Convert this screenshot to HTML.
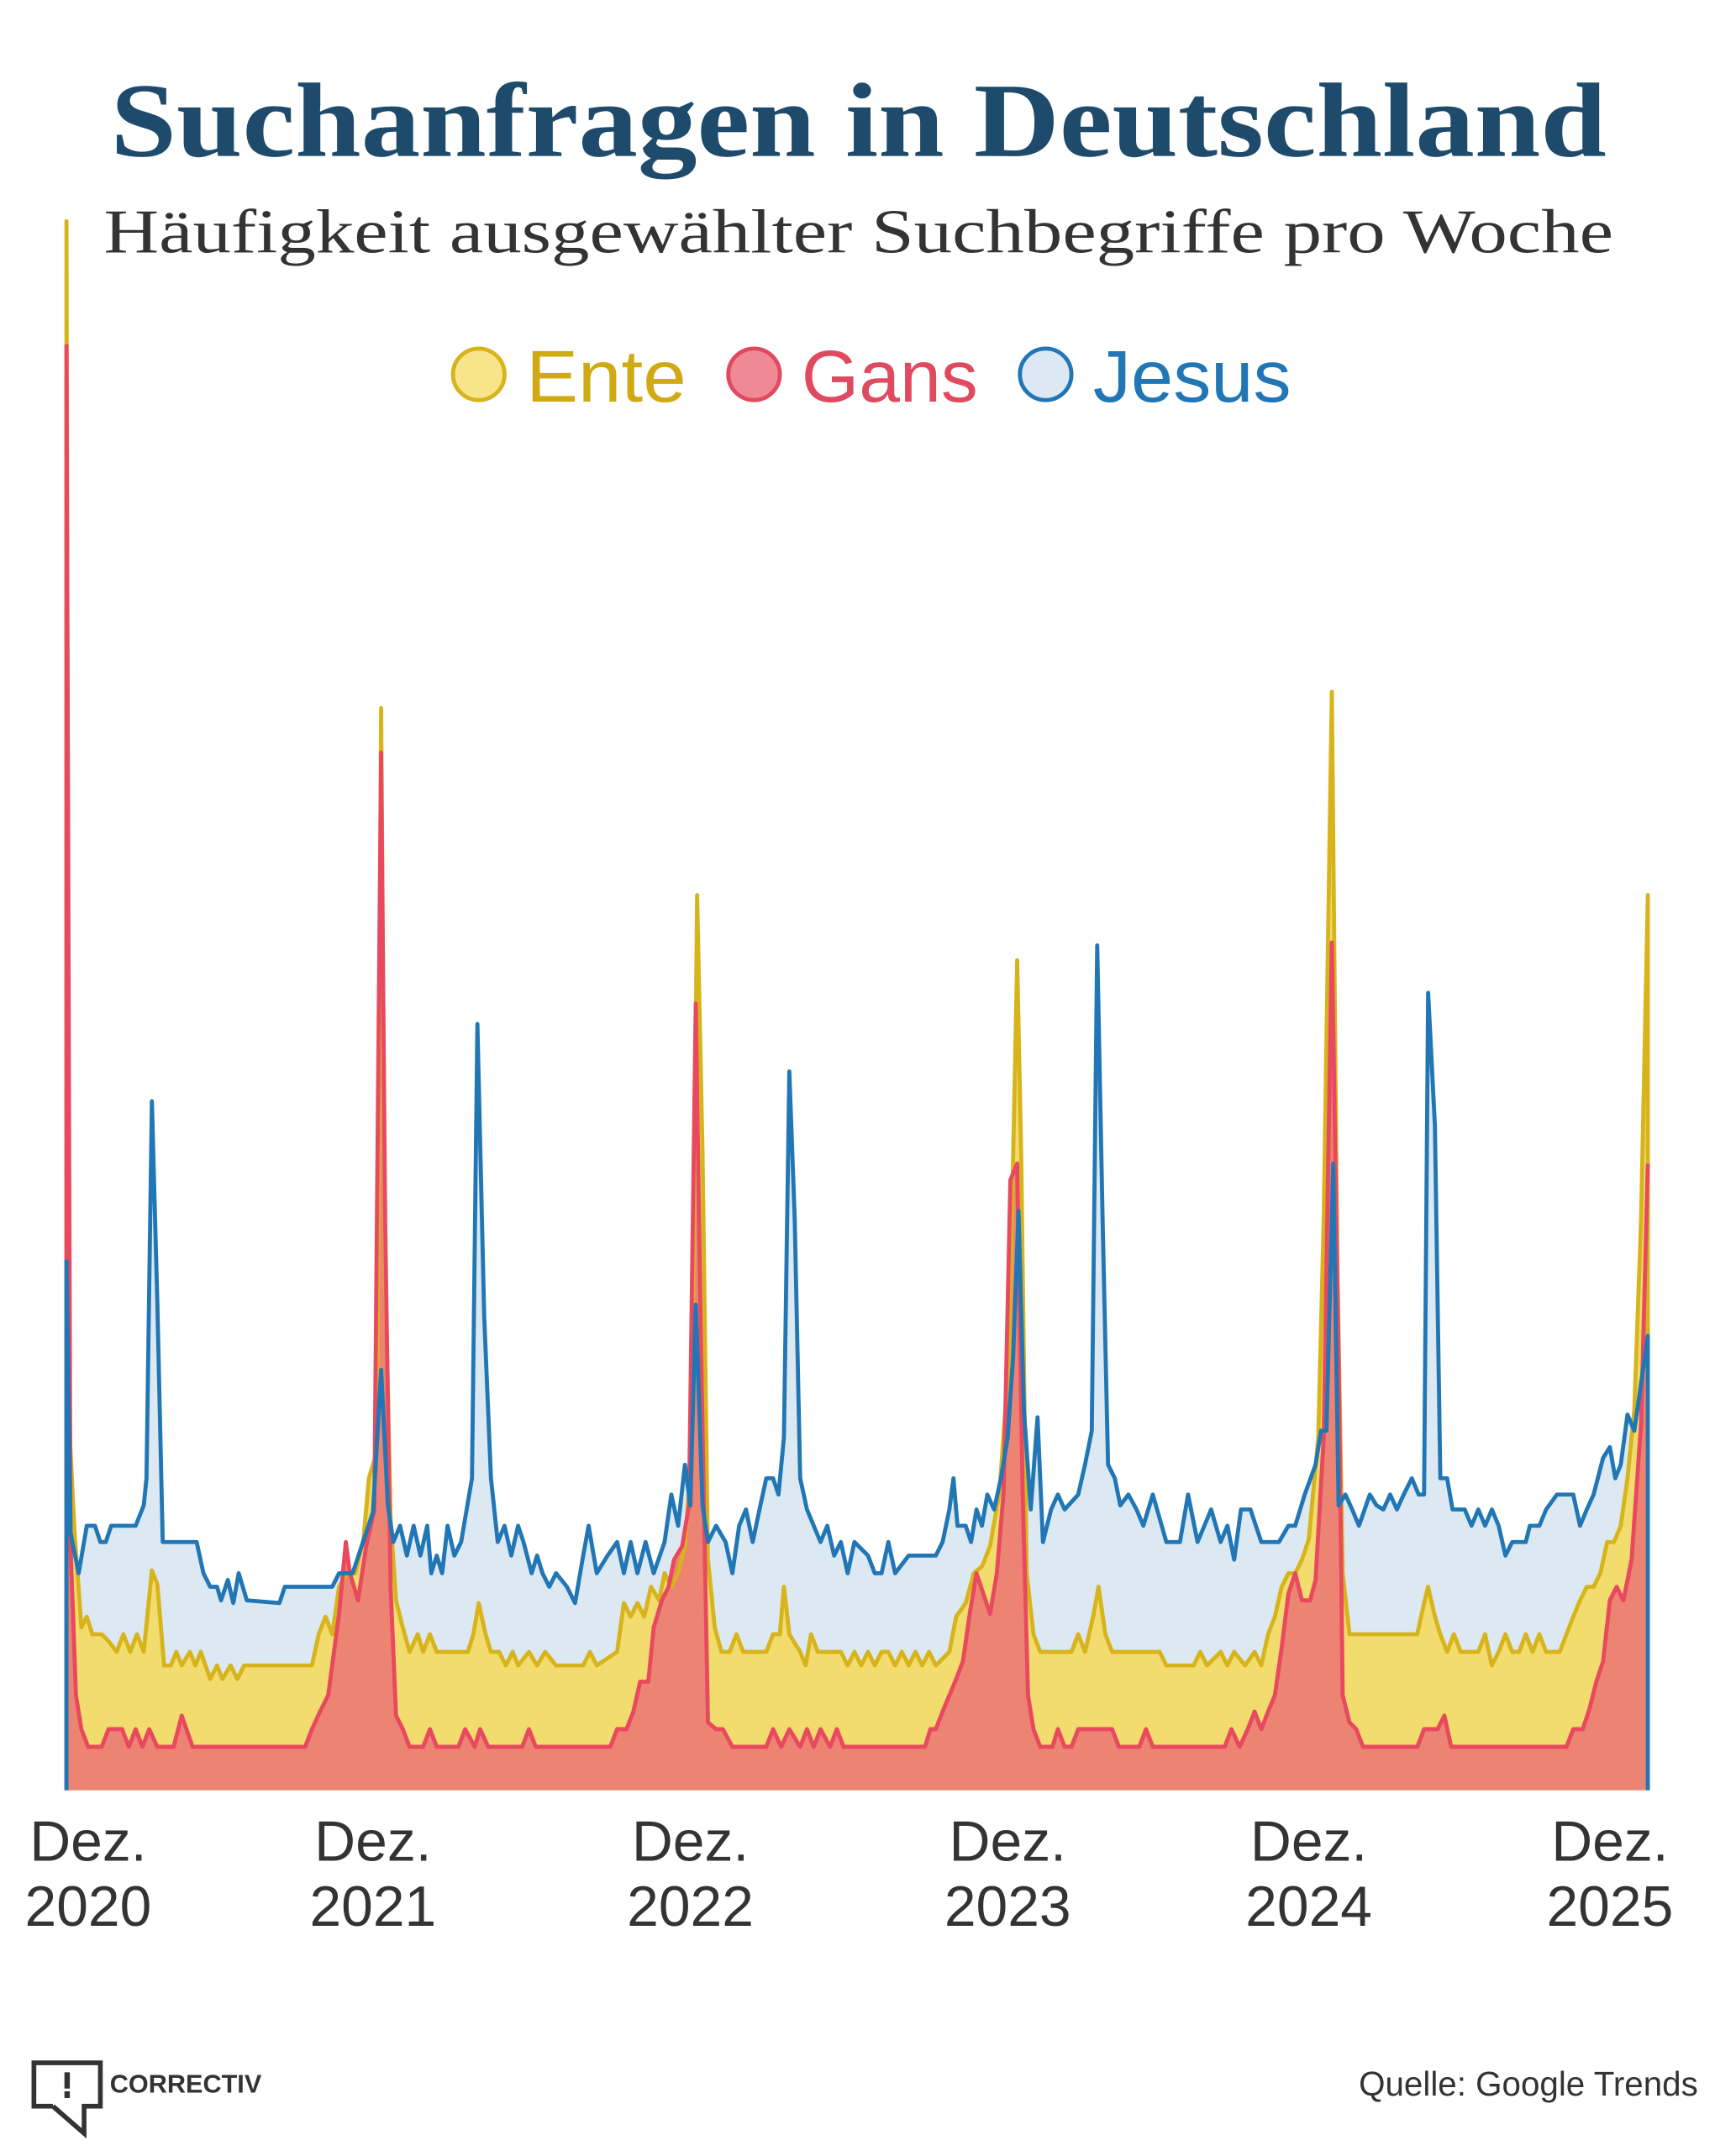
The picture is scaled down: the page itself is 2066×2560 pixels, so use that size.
<!DOCTYPE html>
<html><head><meta charset="utf-8"><style>
html,body{margin:0;padding:0;background:#fff;}
svg{display:block;}
</style></head><body>
<svg width="2066" height="2560" viewBox="0 0 1280 1586" xmlns="http://www.w3.org/2000/svg">
<rect width="1280" height="1586" fill="#fff"/>
<text x="633" y="115" text-anchor="middle" font-family="'Liberation Serif',serif" font-weight="bold" font-size="78" fill="#1e4a6b" textLength="1103" lengthAdjust="spacingAndGlyphs">Suchanfragen in Deutschland</text>
<text x="633" y="186" text-anchor="middle" font-family="'Liberation Serif',serif" font-size="46" fill="#333" textLength="1113" lengthAdjust="spacingAndGlyphs">Häufigkeit ausgewählter Suchbegriffe pro Woche</text>
<g font-family="'Liberation Sans',sans-serif" font-size="54">
<circle cx="353" cy="276" r="19" fill="#f8e48b" stroke="#d8b41c" stroke-width="3"/>
<text x="388" y="296" fill="#d0aa14" textLength="118" lengthAdjust="spacingAndGlyphs">Ente</text>
<circle cx="556" cy="276" r="19" fill="#ef8a95" stroke="#e04a60" stroke-width="3"/>
<text x="591" y="296" fill="#e04a60" textLength="130" lengthAdjust="spacingAndGlyphs">Gans</text>
<circle cx="771" cy="276" r="19" fill="#dce9f4" stroke="#2176b5" stroke-width="3"/>
<text x="806" y="296" fill="#2176b5" textLength="146" lengthAdjust="spacingAndGlyphs">Jesus</text>
</g>
<g id="chart">
<polygon fill="#dce9f2" points="49,1320 49,930 52,1130 58,1160 64,1125 70,1125 74,1137 78,1137 82,1125 100,1125 106,1110 108,1090 112,812 116,960 120,1137 145,1137 150,1160 155,1170 160,1170 163,1180 168,1165 172,1182 176,1160 182,1180 206,1182 210,1170 245,1170 250,1160 260,1160 275,1115 281,1010 286,1110 290,1137 295,1125 300,1147 305,1125 310,1147 315,1125 318,1160 322,1147 326,1160 330,1125 335,1147 340,1137 348,1090 352,755 357,970 362,1090 367,1137 372,1125 377,1147 382,1125 386,1137 392,1160 396,1147 400,1160 405,1170 410,1160 418,1170 424,1182 430,1147 434,1125 440,1160 448,1147 455,1137 460,1160 465,1137 470,1160 476,1137 482,1160 490,1137 495,1102 500,1125 505,1080 509,1110 513,962 518,1110 522,1137 528,1125 535,1137 540,1160 545,1125 550,1113 555,1137 560,1113 565,1090 570,1090 574,1102 578,1060 582,790 586,900 590,1090 595,1113 600,1125 605,1137 610,1125 615,1147 620,1137 625,1160 630,1137 640,1147 645,1160 650,1160 655,1137 660,1160 670,1147 690,1147 695,1137 700,1113 703,1090 706,1125 712,1125 716,1137 720,1113 724,1125 728,1102 733,1113 738,1090 743,1060 747,1000 751,893 755,1040 760,1113 765,1045 769,1137 775,1113 780,1102 785,1113 795,1102 800,1080 805,1055 809,697 813,900 817,1080 822,1090 826,1110 832,1102 838,1113 843,1125 850,1102 860,1137 870,1137 876,1102 883,1137 888,1125 893,1113 900,1137 905,1125 910,1150 915,1113 922,1113 930,1137 943,1137 950,1125 955,1125 962,1102 970,1080 974,1055 978,1055 983,858 987,1110 992,1102 997,1113 1002,1125 1010,1102 1015,1110 1020,1113 1025,1102 1030,1113 1035,1102 1041,1090 1046,1102 1050,1102 1053,732 1058,830 1062,1090 1067,1090 1071,1113 1080,1113 1085,1125 1090,1113 1095,1125 1100,1113 1105,1125 1110,1147 1115,1137 1125,1137 1128,1125 1135,1125 1140,1113 1148,1102 1160,1102 1165,1125 1170,1113 1175,1102 1182,1075 1187,1067 1191,1090 1195,1080 1200,1043 1205,1055 1210,1020 1215,985 1215,1320"/>
<polygon fill="#f2dc6e" points="49,1320 49,163 51,1050 55,1130 60,1200 64,1192 68,1205 75,1205 80,1210 86,1218 91,1205 96,1218 101,1205 106,1218 112,1158 116,1168 121,1228 126,1228 130,1218 134,1228 140,1218 144,1228 148,1218 155,1238 160,1228 164,1238 170,1228 175,1238 180,1228 230,1228 235,1205 240,1192 245,1205 250,1170 256,1160 262,1160 268,1135 272,1090 278,1070 281,522 284,930 288,1120 292,1180 297,1200 302,1218 308,1205 312,1218 317,1205 322,1218 345,1218 349,1205 353,1182 358,1205 362,1218 368,1218 373,1228 378,1218 382,1228 390,1218 396,1228 402,1218 410,1228 430,1228 435,1218 440,1228 455,1218 460,1182 465,1192 470,1182 475,1192 480,1170 486,1180 490,1160 495,1170 500,1160 505,1140 510,1070 514,660 518,850 522,1150 527,1200 532,1218 538,1218 543,1205 548,1218 565,1218 570,1205 575,1205 578,1170 582,1205 590,1218 594,1228 598,1205 603,1218 620,1218 625,1228 630,1218 635,1228 640,1218 645,1228 650,1218 655,1218 660,1228 665,1218 670,1228 675,1218 680,1228 685,1218 690,1228 700,1218 705,1192 712,1182 718,1160 724,1155 730,1140 737,1100 744,1000 750,708 753,855 757,1160 762,1205 767,1218 790,1218 795,1205 800,1218 806,1192 810,1170 815,1205 820,1218 855,1218 860,1228 880,1228 885,1218 890,1228 900,1218 905,1228 910,1218 918,1228 925,1218 930,1228 935,1205 940,1192 945,1170 950,1160 955,1160 960,1150 965,1135 972,1060 976,900 982,510 986,930 990,1160 995,1205 1045,1205 1050,1182 1053,1170 1058,1192 1062,1205 1067,1218 1072,1205 1077,1218 1090,1218 1095,1205 1100,1228 1105,1218 1110,1205 1115,1218 1120,1218 1125,1205 1130,1218 1135,1205 1140,1218 1150,1218 1155,1205 1160,1192 1165,1180 1170,1170 1175,1170 1180,1160 1185,1137 1190,1137 1195,1125 1200,1090 1205,1040 1210,900 1215,660 1215,1320"/>
<polygon fill="#ec8373" points="49,1320 49,255 52,1140 56,1250 60,1275 65,1288 75,1288 80,1275 90,1275 95,1288 100,1275 105,1288 110,1275 116,1288 128,1288 134,1265 142,1288 225,1288 230,1275 236,1262 242,1250 246,1220 250,1190 255,1137 258,1160 264,1180 270,1140 276,1113 281,555 284,900 288,1170 292,1265 297,1275 302,1288 312,1288 317,1275 322,1288 338,1288 343,1275 350,1288 354,1275 360,1288 385,1288 390,1275 395,1288 450,1288 455,1275 462,1275 467,1262 472,1240 478,1240 482,1200 488,1180 493,1170 497,1150 503,1140 508,1110 513,740 517,1000 522,1270 528,1275 533,1275 540,1288 565,1288 570,1275 576,1288 582,1275 590,1288 595,1275 600,1288 605,1275 612,1288 617,1275 622,1288 682,1288 686,1275 690,1275 695,1262 700,1250 705,1238 710,1225 715,1190 720,1160 725,1175 730,1190 735,1160 740,1100 745,870 750,858 754,1100 758,1250 762,1275 767,1288 776,1288 780,1275 785,1288 790,1288 795,1275 820,1275 825,1288 840,1288 845,1275 850,1288 903,1288 908,1275 914,1288 920,1275 925,1262 930,1275 935,1262 940,1250 945,1215 950,1175 955,1160 960,1180 966,1180 970,1165 976,1060 982,695 987,1000 990,1250 995,1270 1000,1275 1005,1288 1045,1288 1050,1275 1060,1275 1065,1265 1070,1288 1155,1288 1160,1275 1167,1275 1172,1260 1177,1240 1182,1225 1187,1180 1192,1170 1197,1180 1203,1150 1210,1050 1215,858 1215,1320"/>
</g>
<g fill="none" stroke-width="3" stroke-linejoin="round">
<polyline stroke="#d8b41c" points="49,1320 49,163 51,1050 55,1130 60,1200 64,1192 68,1205 75,1205 80,1210 86,1218 91,1205 96,1218 101,1205 106,1218 112,1158 116,1168 121,1228 126,1228 130,1218 134,1228 140,1218 144,1228 148,1218 155,1238 160,1228 164,1238 170,1228 175,1238 180,1228 230,1228 235,1205 240,1192 245,1205 250,1170 256,1160 262,1160 268,1135 272,1090 278,1070 281,522 284,930 288,1120 292,1180 297,1200 302,1218 308,1205 312,1218 317,1205 322,1218 345,1218 349,1205 353,1182 358,1205 362,1218 368,1218 373,1228 378,1218 382,1228 390,1218 396,1228 402,1218 410,1228 430,1228 435,1218 440,1228 455,1218 460,1182 465,1192 470,1182 475,1192 480,1170 486,1180 490,1160 495,1170 500,1160 505,1140 510,1070 514,660 518,850 522,1150 527,1200 532,1218 538,1218 543,1205 548,1218 565,1218 570,1205 575,1205 578,1170 582,1205 590,1218 594,1228 598,1205 603,1218 620,1218 625,1228 630,1218 635,1228 640,1218 645,1228 650,1218 655,1218 660,1228 665,1218 670,1228 675,1218 680,1228 685,1218 690,1228 700,1218 705,1192 712,1182 718,1160 724,1155 730,1140 737,1100 744,1000 750,708 753,855 757,1160 762,1205 767,1218 790,1218 795,1205 800,1218 806,1192 810,1170 815,1205 820,1218 855,1218 860,1228 880,1228 885,1218 890,1228 900,1218 905,1228 910,1218 918,1228 925,1218 930,1228 935,1205 940,1192 945,1170 950,1160 955,1160 960,1150 965,1135 972,1060 976,900 982,510 986,930 990,1160 995,1205 1045,1205 1050,1182 1053,1170 1058,1192 1062,1205 1067,1218 1072,1205 1077,1218 1090,1218 1095,1205 1100,1228 1105,1218 1110,1205 1115,1218 1120,1218 1125,1205 1130,1218 1135,1205 1140,1218 1150,1218 1155,1205 1160,1192 1165,1180 1170,1170 1175,1170 1180,1160 1185,1137 1190,1137 1195,1125 1200,1090 1205,1040 1210,900 1215,660 1215,1320"/>
<polyline stroke="#e8495f" points="49,1320 49,255 52,1140 56,1250 60,1275 65,1288 75,1288 80,1275 90,1275 95,1288 100,1275 105,1288 110,1275 116,1288 128,1288 134,1265 142,1288 225,1288 230,1275 236,1262 242,1250 246,1220 250,1190 255,1137 258,1160 264,1180 270,1140 276,1113 281,555 284,900 288,1170 292,1265 297,1275 302,1288 312,1288 317,1275 322,1288 338,1288 343,1275 350,1288 354,1275 360,1288 385,1288 390,1275 395,1288 450,1288 455,1275 462,1275 467,1262 472,1240 478,1240 482,1200 488,1180 493,1170 497,1150 503,1140 508,1110 513,740 517,1000 522,1270 528,1275 533,1275 540,1288 565,1288 570,1275 576,1288 582,1275 590,1288 595,1275 600,1288 605,1275 612,1288 617,1275 622,1288 682,1288 686,1275 690,1275 695,1262 700,1250 705,1238 710,1225 715,1190 720,1160 725,1175 730,1190 735,1160 740,1100 745,870 750,858 754,1100 758,1250 762,1275 767,1288 776,1288 780,1275 785,1288 790,1288 795,1275 820,1275 825,1288 840,1288 845,1275 850,1288 903,1288 908,1275 914,1288 920,1275 925,1262 930,1275 935,1262 940,1250 945,1215 950,1175 955,1160 960,1180 966,1180 970,1165 976,1060 982,695 987,1000 990,1250 995,1270 1000,1275 1005,1288 1045,1288 1050,1275 1060,1275 1065,1265 1070,1288 1155,1288 1160,1275 1167,1275 1172,1260 1177,1240 1182,1225 1187,1180 1192,1170 1197,1180 1203,1150 1210,1050 1215,858"/>
<polyline stroke="#2176b5" points="49,1320 49,930 52,1130 58,1160 64,1125 70,1125 74,1137 78,1137 82,1125 100,1125 106,1110 108,1090 112,812 116,960 120,1137 145,1137 150,1160 155,1170 160,1170 163,1180 168,1165 172,1182 176,1160 182,1180 206,1182 210,1170 245,1170 250,1160 260,1160 275,1115 281,1010 286,1110 290,1137 295,1125 300,1147 305,1125 310,1147 315,1125 318,1160 322,1147 326,1160 330,1125 335,1147 340,1137 348,1090 352,755 357,970 362,1090 367,1137 372,1125 377,1147 382,1125 386,1137 392,1160 396,1147 400,1160 405,1170 410,1160 418,1170 424,1182 430,1147 434,1125 440,1160 448,1147 455,1137 460,1160 465,1137 470,1160 476,1137 482,1160 490,1137 495,1102 500,1125 505,1080 509,1110 513,962 518,1110 522,1137 528,1125 535,1137 540,1160 545,1125 550,1113 555,1137 560,1113 565,1090 570,1090 574,1102 578,1060 582,790 586,900 590,1090 595,1113 600,1125 605,1137 610,1125 615,1147 620,1137 625,1160 630,1137 640,1147 645,1160 650,1160 655,1137 660,1160 670,1147 690,1147 695,1137 700,1113 703,1090 706,1125 712,1125 716,1137 720,1113 724,1125 728,1102 733,1113 738,1090 743,1060 747,1000 751,893 755,1040 760,1113 765,1045 769,1137 775,1113 780,1102 785,1113 795,1102 800,1080 805,1055 809,697 813,900 817,1080 822,1090 826,1110 832,1102 838,1113 843,1125 850,1102 860,1137 870,1137 876,1102 883,1137 888,1125 893,1113 900,1137 905,1125 910,1150 915,1113 922,1113 930,1137 943,1137 950,1125 955,1125 962,1102 970,1080 974,1055 978,1055 983,858 987,1110 992,1102 997,1113 1002,1125 1010,1102 1015,1110 1020,1113 1025,1102 1030,1113 1035,1102 1041,1090 1046,1102 1050,1102 1053,732 1058,830 1062,1090 1067,1090 1071,1113 1080,1113 1085,1125 1090,1113 1095,1125 1100,1113 1105,1125 1110,1147 1115,1137 1125,1137 1128,1125 1135,1125 1140,1113 1148,1102 1160,1102 1165,1125 1170,1113 1175,1102 1182,1075 1187,1067 1191,1090 1195,1080 1200,1043 1205,1055 1210,1020 1215,985 1215,1320"/>
</g>
<g font-family="'Liberation Sans',sans-serif" font-size="42" fill="#333" text-anchor="middle">
<text x="65" y="1372">Dez.</text><text x="65" y="1420">2020</text>
<text x="275" y="1372">Dez.</text><text x="275" y="1420">2021</text>
<text x="509" y="1372">Dez.</text><text x="509" y="1420">2022</text>
<text x="743" y="1372">Dez.</text><text x="743" y="1420">2023</text>
<text x="965" y="1372">Dez.</text><text x="965" y="1420">2024</text>
<text x="1187" y="1372">Dez.</text><text x="1187" y="1420">2025</text>
</g>
<g fill="none" stroke="#333" stroke-width="3.5">
<polyline points="39,1553 25,1553 25,1521 74,1521 74,1553 62,1553 62,1573 39,1553"/>
</g>
<rect x="47.5" y="1528" width="4" height="12" fill="#333"/>
<rect x="47.5" y="1542" width="4" height="5" fill="#333"/>
<text x="81" y="1543" font-family="'Liberation Sans',sans-serif" font-weight="bold" font-size="19" fill="#333">CORRECTIV</text>
<text x="1252" y="1545" text-anchor="end" font-family="'Liberation Sans',sans-serif" font-size="25" fill="#333">Quelle: Google Trends</text>
</svg>
</body></html>
